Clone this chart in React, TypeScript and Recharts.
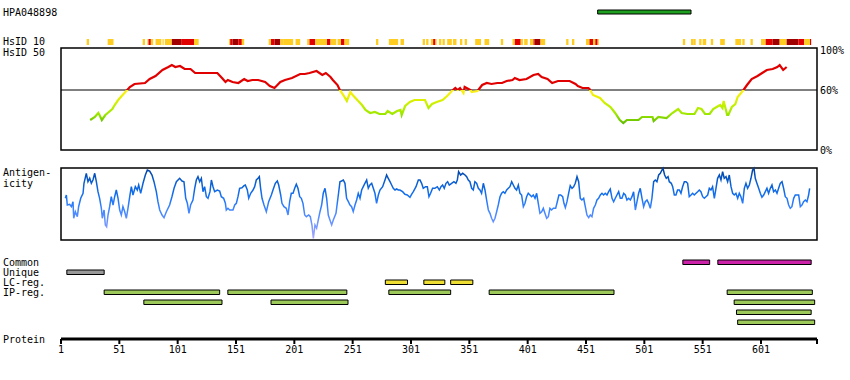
import React from 'react';
import { ComposedChart, Line, XAxis, YAxis, ReferenceArea, ReferenceLine } from 'recharts';

const FONT = '"DejaVu Sans Mono", monospace';

// ---------- data ----------
const proteinDomain: [number, number] = [1, 649];
const proteinTicks = [1, 51, 101, 151, 201, 251, 301, 351, 401, 451, 501, 551, 601, 649];
const percentTicks = [0, 60, 100];
const antigenRegion: [number, number] = [461, 541];

// [start, end, level] level 1 = low, 2 = mid, 3 = high identity
const hsid10Segments: [number, number, number][] = [
  [23, 25, 1], [41, 46, 1], [71, 73, 1], [75, 76, 1], [76, 78, 2], [78, 80, 1], [82, 87, 1], [88, 89, 1],
  [90, 96, 1], [96, 104, 3], [104, 115, 2], [115, 119, 1], [145, 146, 1], [146, 148, 2], [148, 153, 3],
  [153, 156, 2], [156, 158, 1], [179, 181, 1], [181, 184, 2], [184, 189, 3], [189, 192, 1], [192, 200, 1],
  [202, 206, 1], [212, 214, 1], [214, 219, 2], [219, 229, 1], [229, 232, 2], [232, 237, 1], [238, 241, 1],
  [241, 244, 2], [244, 248, 1], [271, 273, 1], [282, 290, 1], [292, 295, 1], [311, 313, 1], [314, 316, 1],
  [318, 320, 1], [320, 322, 2], [322, 323, 1], [325, 327, 1], [328, 330, 1], [332, 336, 1], [337, 340, 1],
  [343, 345, 1], [347, 349, 1], [356, 361, 1], [364, 368, 1], [378, 380, 1], [388, 390, 1], [390, 395, 2],
  [395, 397, 1], [398, 401, 1], [403, 406, 1], [406, 407, 2], [407, 412, 3], [412, 416, 1], [434, 436, 1],
  [439, 441, 1], [451, 454, 1], [454, 457, 2], [457, 459, 1], [459, 461, 2], [461, 462, 1], [534, 536, 1],
  [541, 543, 1], [543, 545, 1], [548, 550, 1], [551, 554, 1], [558, 560, 1], [566, 570, 1], [579, 584, 1],
  [585, 587, 1], [592, 594, 1], [601, 605, 1], [605, 611, 2], [611, 617, 3], [617, 623, 1], [623, 633, 3],
  [633, 638, 2], [638, 643, 1], [643, 644, 2],
];

// [residue, % identity]
const hsid50: [number, number][] = [
  [26, 30], [30, 33], [33, 37], [34, 35], [36, 30], [39, 35], [41, 37], [45, 41], [47, 45], [50, 50], [53, 54],
  [57, 59], [60, 63], [64, 66], [73, 67], [77, 71], [82, 74], [88, 80], [93, 83], [96, 85], [99, 83], [103, 84],
  [107, 81], [112, 81], [116, 77], [120, 77], [129, 77], [135, 77], [139, 72], [142, 68], [144, 70], [148, 68],
  [153, 67], [158, 71], [161, 69], [165, 70], [170, 70], [176, 68], [180, 64], [184, 62], [189, 68], [193, 70],
  [199, 72], [206, 76], [210, 76], [214, 77], [220, 79], [225, 75], [228, 77], [232, 73], [234, 70], [238, 65],
  [240, 60], [243, 55], [246, 49], [249, 58], [251, 55], [255, 50], [259, 45], [262, 40], [266, 37], [270, 38],
  [274, 36], [279, 36], [281, 39], [285, 36], [289, 39], [292, 40], [293, 35], [296, 44], [300, 48], [304, 50],
  [309, 50], [313, 50], [316, 42], [319, 46], [323, 48], [328, 50], [332, 54], [336, 59], [339, 62], [341, 60],
  [343, 62], [346, 57], [347, 63], [352, 60], [353, 58], [358, 59], [362, 65], [366, 67], [370, 66], [375, 67],
  [379, 67], [383, 69], [388, 70], [390, 72], [394, 70], [400, 71], [406, 75], [410, 76], [413, 73], [418, 71],
  [422, 67], [427, 69], [433, 69], [437, 69], [442, 66], [444, 64], [448, 62], [453, 62], [454, 61], [457, 55],
  [463, 52], [467, 47], [472, 43], [476, 37], [480, 30], [483, 27], [486, 30], [496, 30], [499, 33], [508, 33],
  [509, 29], [513, 33], [520, 32], [525, 37], [530, 41], [533, 37], [538, 36], [544, 36], [547, 42], [550, 41],
  [553, 36], [557, 36], [560, 41], [563, 43], [566, 45], [568, 42], [569, 49], [572, 35], [573, 35], [576, 43],
  [579, 46], [581, 53], [586, 60], [589, 65], [593, 71], [598, 74], [602, 77], [606, 80], [611, 81], [615, 83],
  [617, 85], [620, 80], [623, 83],
];

// [residue, antigenicity]
const antigenicity: [number, number][] = [
  [4.7, 41.7], [5.6, 45], [6.4, 35], [8.4, 35.7], [9.9, 33.3], [11.3, 38.3], [11.9, 21.7], [13.3, 28.3], [15.0, 23.3],
  [16.1, 33.3], [17.9, 41.7], [19.9, 46.7], [20.7, 56.7], [22.7, 66.7], [24.1, 58.3], [25.6, 61.7], [27.0, 56.7],
  [28.4, 60], [29.9, 66.7], [31.3, 58.3], [32.7, 48.3], [34.1, 41.7], [35.6, 31.7], [36.4, 21.7], [37.9, 30],
  [39.0, 15], [40.1, 13.3], [41.3, 25], [42.7, 33.3], [44.1, 43.3], [45.6, 35], [47.0, 43.3], [48.4, 50],
  [49.9, 41.7], [51.3, 30], [52.7, 25], [54.1, 33.3], [55.6, 28.3], [57.0, 21.7], [58.4, 31.7], [59.9, 43.3],
  [61.3, 53.3], [62.7, 45], [64.7, 53.3], [66.4, 50], [67.6, 55], [69.3, 46.7], [71.3, 56.7], [73.3, 65],
  [75.0, 70], [77.0, 69], [79.0, 65], [80.7, 58.3], [82.7, 48.3], [84.1, 38.3], [85.6, 30], [87.6, 25],
  [89.3, 22.3], [91.3, 28.3], [94.1, 35], [96.1, 43.3], [97.9, 51.7], [99.9, 58.3], [101.3, 60], [102.7, 61.7],
  [104.7, 59], [106.4, 58.3], [107.9, 41.7], [109.3, 36.7], [110.7, 26.7], [112.1, 35], [114.1, 40], [115.6, 51.7],
  [117.0, 60], [118.4, 63.3], [119.9, 58.3], [121.3, 61.7], [122.7, 48.3], [124.1, 53.3], [125.6, 43.3],
  [127.0, 41.7], [128.7, 48.3], [129.9, 60], [131.3, 53.3], [132.7, 48.3], [135.0, 50], [137.0, 49], [138.4, 43.3],
  [140.4, 41.7], [141.9, 36.7], [142.7, 30], [144.1, 31.7], [145.6, 30], [148.4, 30], [149.9, 35], [151.3, 36.7],
  [152.7, 43.3], [154.1, 51.7], [156.1, 52.3], [157.9, 54.3], [159.0, 55], [160.7, 50], [161.9, 41.7], [163.6, 46.7],
  [165.6, 50], [167.0, 53.3], [168.4, 60], [169.9, 61.7], [171.0, 63.3], [172.1, 51.7], [173.3, 41.7], [175.0, 35],
  [177.0, 28.3], [179.0, 38.3], [181.3, 45], [182.7, 50], [184.7, 56.7], [186.4, 59], [187.6, 55], [189.3, 45],
  [190.4, 36.7], [192.1, 33.3], [194.1, 31.7], [195.6, 25], [197.0, 38.3], [198.4, 46.7], [199.9, 46.7],
  [201.3, 51.7], [202.7, 55.7], [204.1, 51.7], [205.6, 43.3], [207.0, 41.7], [208.4, 36.7], [209.9, 25],
  [211.3, 23.3], [213.3, 25], [214.7, 23.3], [216.1, 15],
  [216.7, 8.3], [217.3, 1.7], [218.7, 15], [220.1, 11.7], [221.5, 20], [223, 28.3], [224.4, 35], [225.8, 46.7],
  [227.3, 51.7], [228.7, 41.7], [230.1, 25], [231.5, 20], [233, 15], [234.4, 20], [236.7, 26.7], [238.7, 45],
  [240.1, 58.3], [241.5, 59], [243, 60], [244.4, 56.7], [245.8, 41.7], [247.3, 38.3], [248.7, 35], [250.1, 33.3],
  [251.5, 28.3], [253, 35], [254.4, 40], [255.8, 46.7], [257.3, 41.7], [258.7, 50], [260.1, 53.3], [261.5, 56.7],
  [263, 60], [264.4, 51.7], [265.8, 55], [267.3, 56.7], [268.7, 51.7], [270.1, 46.7], [271.5, 36.7], [273, 45],
  [274.4, 50], [276.7, 53.3], [278.7, 60], [280.1, 65], [281.5, 61.7], [283, 58.3], [284.4, 55], [285.8, 51.7],
  [287.3, 50], [288.7, 51], [290.1, 50], [291.5, 50], [293.8, 48.3], [295.8, 45.7], [297.8, 45], [300.1, 42.7],
  [301.5, 45.7], [303, 48.3], [305.3, 53.3], [307.3, 60], [308.7, 60], [310.1, 56.7], [311.5, 51.7], [313.5, 53.3],
  [315, 53.3], [316.4, 43.3], [317.8, 46.7], [319.5, 51.7], [321.5, 51.7], [323.5, 53.3], [325.3, 50], [326.7, 53.3],
  [328.1, 55], [329.5, 51.7], [331, 56.7], [332.4, 58.3], [333.8, 55], [335.8, 56.7], [337.8, 58.3], [339.5, 56.7],
  [340.7, 60], [341.8, 68.3], [343.5, 65], [345.3, 66.7], [347.3, 65], [348.7, 63.3], [350.1, 60], [351.5, 58.3],
  [353, 51.7], [354.4, 50], [355.8, 58.3], [357.3, 56.7], [358.7, 51.7], [360.1, 50], [361.5, 46.7], [363, 56.7],
  [364.4, 50], [365.8, 40], [367.3, 30], [368.7, 26.7], [370.1, 21.7], [371.5, 18.3], [373, 21.7], [374.4, 28.3],
  [375.8, 35], [377.3, 43.3], [378.7, 46.7], [380.1, 48.3], [381.5, 46.7], [383, 50], [384.4, 51.7], [385.8, 53.3],
  [387.3, 58.3], [388.7, 55], [390.1, 51.7], [391.5, 50], [393, 55], [394.4, 46.7], [395.8, 45], [397.3, 33.3],
  [398.7, 36.7], [400.1, 43.3], [401.5, 46.7], [403, 45], [404.4, 43.3], [405.8, 45], [407.3, 41.7], [408.7, 46.7],
  [410.1, 36.7], [411.5, 26.7], [413, 28.3], [414.4, 31.7], [415.8, 26.7], [417.3, 21.7], [418.7, 23.3],
  [420.1, 31.7], [421.5, 30], [423, 31.7], [425, 31.7], [426.4, 38.3], [427.8, 45], [429.3, 45], [431, 43.3],
  [432.1, 36.7],
  [433.3, 32.3], [434.7, 38.3], [436.1, 46.7], [437.5, 54.3], [439, 51.7], [440.4, 53.3], [441.8, 56.7],
  [443.3, 63.3], [444.7, 58.3], [446.1, 41.7], [447.5, 40], [449, 41.7], [450.4, 33.3], [451.8, 25], [453.3, 22.3],
  [454.7, 25], [456.1, 23.3], [457.5, 31.7], [459, 35], [460.4, 40], [461.8, 41.7], [463.3, 45], [464.7, 46.7],
  [466.1, 45], [467.5, 46.7], [469, 45], [470.4, 48.3], [471.8, 51], [473.3, 41.7], [474.7, 38.3], [476.1, 41.7],
  [477.5, 45], [479, 48.3], [480.4, 41.7], [481.8, 41.7], [483.3, 46.7], [484.7, 45], [486.1, 40], [487.5, 41.7],
  [489, 40], [490.4, 43.3], [491.8, 48.3], [493.3, 30], [494.7, 38.3], [496.1, 46.7], [497.5, 51.7], [499, 41.7],
  [500.4, 33.3], [501.8, 38.3], [503.3, 40], [504.7, 36.7], [506.1, 31.7], [507.5, 41.7], [509, 58.3], [510.4, 60],
  [511.8, 58.3], [513.3, 65], [514.7, 66.7], [516.1, 70], [517, 71.7], [518.4, 65], [519.8, 61.7], [521.3, 63.3],
  [522.4, 58.3], [524.1, 56.7], [525.3, 53.3], [526.7, 45], [528.1, 45], [529.5, 50], [531, 50], [532.4, 46.7],
  [533.8, 53.3], [535.3, 58.3], [536.7, 58.3], [538.1, 56.7], [539.5, 43.3], [541, 45], [542.4, 46.7], [543.8, 45],
  [545.3, 46.7], [546.7, 48.3], [548.1, 50], [549.5, 48.3], [551, 43.3], [552.4, 41.7], [553.8, 43.3], [555.3, 45],
  [556.7, 51.7], [558.1, 50], [559.5, 53.3], [561, 41.7], [562.4, 51.7], [563.8, 61.7], [565.3, 65], [566.7, 60],
  [568.1, 68.3], [569.5, 61.7], [571, 63.3], [572.4, 58.3], [573.8, 65], [575.3, 53.3], [576.7, 46.7], [578.1, 45],
  [579.5, 46.7], [581, 41.7], [582.4, 46.7], [583.8, 43.3], [585.3, 36.7], [586.7, 51.7], [588.1, 56.7],
  [589.5, 51.7], [591, 55], [592.4, 61.7], [593.8, 70], [595, 71.7], [596.1, 61.7], [597.5, 56.7], [599, 51.7],
  [600.4, 46.7], [601.8, 42.7], [603.3, 45], [604.7, 48.3], [606.1, 51.7], [607.5, 46.7], [609, 51.7], [610.4, 55],
  [611.8, 48.3], [613.3, 50], [614.7, 46.7], [616.1, 51.7], [617.5, 56.7], [619, 58.3], [620.4, 51.7], [621.8, 43.3],
  [623.3, 41.7], [624.7, 35], [626.1, 31.7], [627.5, 33.3], [629, 41.7], [630.4, 45], [631.8, 45], [633.3, 45],
  [634.7, 33.3], [636.1, 35], [637.5, 38.3], [639, 40], [640.4, 38.3], [641.8, 45], [642.7, 51.7],
];

const commonRegions: [number, number][] = [[534, 557], [564, 644]];
const uniqueRegions: [number, number][] = [[6, 38]];
const lcRegions: [number, number][] = [[279, 298], [312, 330], [335, 354]];
// [start, end, row]
const ipRegions: [number, number, number][] = [
  [38, 137, 0], [144, 246, 0], [282, 335, 0], [368, 475, 0], [572, 645, 0],
  [72, 139, 1], [181, 247, 1], [578, 647, 1],
  [580, 644, 2],
  [581, 647, 3],
];

// ---------- styling ----------
const levelColors: Record<number, string> = { 1: '#ffcc22', 2: '#e00000', 3: '#a00000' };
const hsData = hsid50.map(([pos, v]) => ({ pos, v }));
const agData = antigenicity.map(([pos, v]) => ({ pos, v }));
const axisData = [{ pos: proteinDomain[0], y: 0 }, { pos: proteinDomain[1], y: 9 }];

const W = 850;
const SIDE = { left: 61, right: 33 };

const labelStyle = (top: number, left = 3): React.CSSProperties => ({
  position: 'absolute',
  left,
  top: top - 5,
  fontFamily: FONT,
  fontSize: 10,
  lineHeight: '10px',
  color: '#000',
  whiteSpace: 'pre',
});

const trackBar = (key: string, x1: number, x2: number, rowTop: number, fill: string) => (
  <ReferenceArea
    key={key}
    x1={x1}
    x2={x2}
    y1={rowTop - 0.45}
    y2={rowTop}
    fill={fill}
    fillOpacity={1}
    stroke="#000"
    strokeWidth={1}
  />
);

export default function App() {
  return (
    <div style={{ position: 'absolute', left: 0, top: 0, width: 850, height: 380, background: '#fff' }}>
      {/* Top: HsID tracks */}
      <div style={{ position: 'absolute', left: 0, top: 0 }}>
        <ComposedChart width={W} height={160} data={hsData} margin={{ top: 0, right: 0, bottom: 10, left: SIDE.left }}>
          <defs>
            <linearGradient id="hsGrad" gradientUnits="userSpaceOnUse" x1="0" y1="0" x2="0" y2="150">
              <stop offset="0" stopColor="#e00000" />
              <stop offset="0.6" stopColor="#e00000" />
              <stop offset="0.6001" stopColor="#ffee22" />
              <stop offset="0.64" stopColor="#eef000" />
              <stop offset="0.7" stopColor="#c4f000" />
              <stop offset="0.76" stopColor="#9ee800" />
              <stop offset="0.8" stopColor="#77cc00" />
              <stop offset="0.84" stopColor="#4fae00" />
            </linearGradient>
          </defs>
          <XAxis dataKey="pos" type="number" domain={proteinDomain} hide allowDataOverflow />
          <YAxis
            orientation="right"
            type="number"
            domain={[0, 150]}
            ticks={percentTicks}
            interval={0}
            width={SIDE.right}
            axisLine={false}
            tickLine={false}
            tickSize={0}
            tickMargin={3}
            tickFormatter={(v: number) => `${v}%`}
            tick={{ fontFamily: FONT, fontSize: 10, fill: '#000' }}
          />
          {hsid10Segments.map(([s, e, lvl], i) => (
            <ReferenceArea key={`h10-${i}`} x1={s} x2={e} y1={105} y2={111} fill={levelColors[lvl]} fillOpacity={1} stroke="none" />
          ))}
          <ReferenceArea x1={antigenRegion[0]} x2={antigenRegion[1]} y1={136} y2={140} fill="#1f9f1f" fillOpacity={1} stroke="#000" strokeWidth={1} />
          <ReferenceArea x1={proteinDomain[0]} x2={proteinDomain[1]} y1={0} y2={102} fill="none" fillOpacity={0} stroke="#000" strokeWidth={1.5} />
          <ReferenceLine y={60} stroke="#000" strokeWidth={1} />
          <Line dataKey="v" type="linear" stroke="url(#hsGrad)" strokeWidth={2.2} dot={false} isAnimationActive={false} />
        </ComposedChart>
      </div>

      {/* Middle: antigenicity */}
      <div style={{ position: 'absolute', left: 0, top: 160 }}>
        <ComposedChart width={W} height={90} data={agData} margin={{ top: 8, right: SIDE.right, bottom: 10, left: SIDE.left }}>
          <defs>
            <linearGradient id="agGrad" gradientUnits="userSpaceOnUse" x1="0" y1="8" x2="0" y2="80">
              <stop offset="0" stopColor="#003f9e" />
              <stop offset="0.2" stopColor="#0a5fd0" />
              <stop offset="0.38" stopColor="#1470f0" />
              <stop offset="0.58" stopColor="#3d85ff" />
              <stop offset="0.78" stopColor="#6f95ff" />
              <stop offset="1" stopColor="#b0a8ff" />
            </linearGradient>
          </defs>
          <XAxis dataKey="pos" type="number" domain={proteinDomain} hide allowDataOverflow />
          <YAxis type="number" domain={[0, 72]} hide width={0} />
          <ReferenceArea x1={proteinDomain[0]} x2={proteinDomain[1]} y1={0} y2={72} fill="none" fillOpacity={0} stroke="#000" strokeWidth={1.5} />
          <Line dataKey="v" type="linear" stroke="url(#agGrad)" strokeWidth={1.5} dot={false} isAnimationActive={false} />
        </ComposedChart>
      </div>

      {/* Bottom: regions and protein axis */}
      <div style={{ position: 'absolute', left: 0, top: 245 }}>
        <ComposedChart width={W} height={135} data={axisData} margin={{ top: 4, right: SIDE.right, bottom: 11, left: SIDE.left }}>
          <XAxis
            dataKey="pos"
            type="number"
            domain={proteinDomain}
            ticks={proteinTicks}
            interval={0}
            height={30}
            axisLine={{ stroke: '#000', strokeWidth: 3 }}
            tickLine={{ stroke: '#000', strokeWidth: 2 }}
            tickSize={5}
            tickMargin={2}
            tickFormatter={(v: number) => (v === proteinDomain[1] ? '' : String(v))}
            tick={{ fontFamily: FONT, fontSize: 10, fill: '#000' }}
          />
          <YAxis type="number" domain={[0, 9]} hide width={0} />
          <Line dataKey="y" stroke="none" dot={false} activeDot={false} isAnimationActive={false} />
          {commonRegions.map(([s, e], i) => trackBar(`c-${i}`, s, e, 7.9, '#cc22aa'))}
          {uniqueRegions.map(([s, e], i) => trackBar(`u-${i}`, s, e, 6.9, '#999999'))}
          {lcRegions.map(([s, e], i) => trackBar(`l-${i}`, s, e, 5.9, '#eedd33'))}
          {ipRegions.map(([s, e, row], i) => trackBar(`ip-${i}`, s, e, 4.9 - row, '#9dc85a'))}
        </ComposedChart>
      </div>

      {/* Labels */}
      <div style={labelStyle(12.5)}>HPA048898</div>
      <div style={labelStyle(42)}>HsID 10</div>
      <div style={labelStyle(52.5)}>HsID 50</div>
      <div style={labelStyle(173)}>Antigen-</div>
      <div style={labelStyle(184)}>icity</div>
      <div style={labelStyle(263)}>Common</div>
      <div style={labelStyle(272.5)}>Unique</div>
      <div style={labelStyle(282.5)}>LC-reg.</div>
      <div style={labelStyle(292.5)}>IP-reg.</div>
      <div style={labelStyle(339.5)}>Protein</div>
    </div>
  );
}
